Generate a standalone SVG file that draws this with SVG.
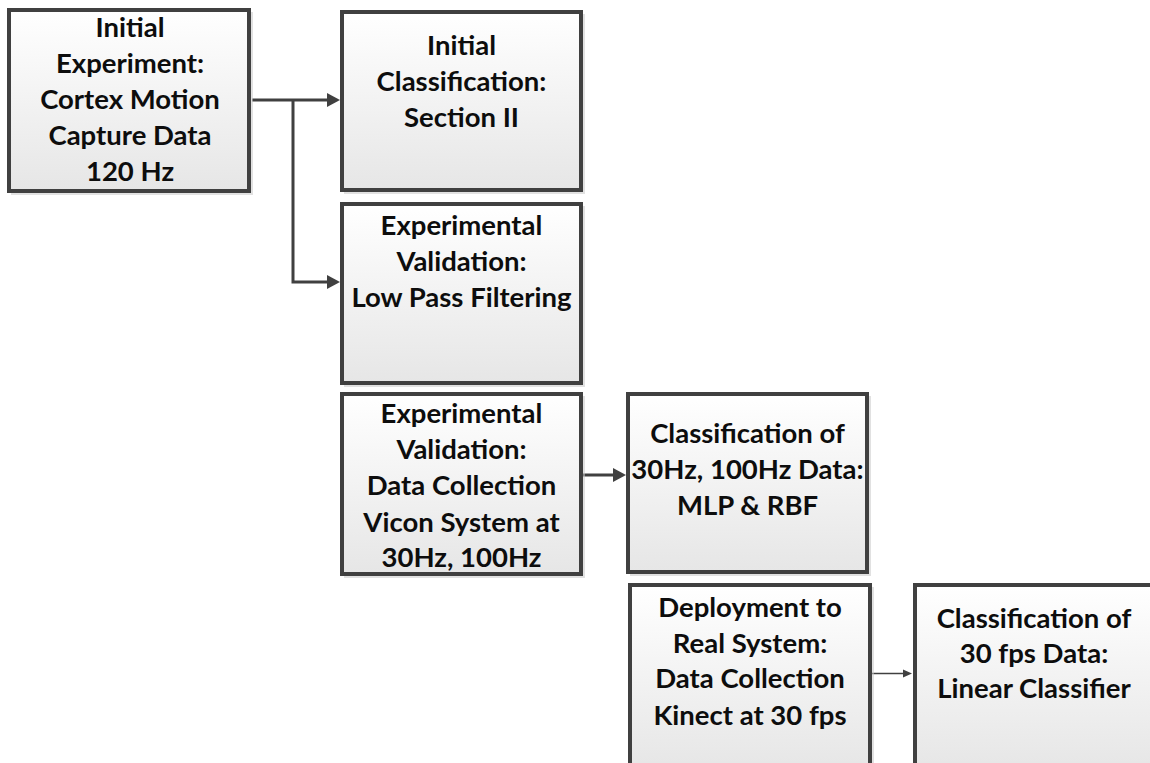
<svg xmlns="http://www.w3.org/2000/svg" width="1150" height="763" viewBox="0 0 1150 763">
  <defs>
    <linearGradient id="boxfill" x1="0" y1="0" x2="0" y2="1">
      <stop offset="0" stop-color="#ffffff"/>
      <stop offset="1" stop-color="#e6e6e6"/>
    </linearGradient>
    <marker id="arrow" markerUnits="userSpaceOnUse" markerWidth="14" markerHeight="14" viewBox="0 0 14 14" refX="7" refY="7" orient="auto">
      <path d="M0,0 L13,7 L0,14 z" fill="#404040"/>
    </marker>
    <marker id="arrowSmall" markerUnits="userSpaceOnUse" markerWidth="10" markerHeight="10" viewBox="0 0 10 10" refX="5" refY="5" orient="auto">
      <path d="M0,1 L9,5 L0,9 z" fill="#404040"/>
    </marker>
    <style>
      .shadow { fill: #c8c8c8; opacity: 0.55; }
      .box { fill: url(#boxfill); stroke: #404040; stroke-width: 4; }
      .label { font-family: "Lato", "Liberation Sans", sans-serif; font-weight: bold; font-size: 27.5px; fill: #0d0d0d; text-anchor: middle; }
      .conn { fill: none; stroke: #404040; stroke-width: 3; }
      .connThin { fill: none; stroke: #404040; stroke-width: 1.5; }
    </style>
  </defs>

  <rect width="1150" height="763" fill="#ffffff"/>

  <g id="connectors">
    <path class="conn" d="M252,100 H334" marker-end="url(#arrow)"/>
    <path class="conn" d="M293,100 V282 H334" marker-end="url(#arrow)"/>
    <path class="conn" d="M583,475 H620" marker-end="url(#arrow)"/>
    <path class="connThin" d="M872,673.5 H908" marker-end="url(#arrowSmall)"/>
  </g>

  <g id="node-initial-experiment">
    <rect class="shadow" x="11" y="12" width="242" height="183"/>
    <rect class="box" x="9" y="10" width="240" height="181"/>
    <text class="label" x="130" y="37">Initial</text>
    <text class="label" x="130" y="73">Experiment:</text>
    <text class="label" x="130" y="109">Cortex Motion</text>
    <text class="label" x="130" y="145">Capture Data</text>
    <text class="label" x="130" y="181">120 Hz</text>
  </g>

  <g id="node-initial-classification">
    <rect class="shadow" x="344" y="14" width="241" height="180"/>
    <rect class="box" x="342" y="12" width="239" height="178"/>
    <text class="label" x="461.5" y="55">Initial</text>
    <text class="label" x="461.5" y="91">Classification:</text>
    <text class="label" x="461.5" y="127">Section II</text>
  </g>

  <g id="node-low-pass">
    <rect class="shadow" x="344" y="206" width="241" height="181"/>
    <rect class="box" x="342" y="204" width="239" height="179"/>
    <text class="label" x="461.5" y="235">Experimental</text>
    <text class="label" x="461.5" y="271">Validation:</text>
    <text class="label" x="461.5" y="307">Low Pass Filtering</text>
  </g>

  <g id="node-vicon">
    <rect class="shadow" x="344" y="396" width="241" height="182"/>
    <rect class="box" x="342" y="394" width="239" height="180"/>
    <text class="label" x="461.5" y="423">Experimental</text>
    <text class="label" x="461.5" y="459">Validation:</text>
    <text class="label" x="461.5" y="495">Data Collection</text>
    <text class="label" x="461.5" y="532">Vicon System at</text>
    <text class="label" x="461.5" y="567">30Hz, 100Hz</text>
  </g>

  <g id="node-mlp-rbf">
    <rect class="shadow" x="630" y="396" width="241" height="180"/>
    <rect class="box" x="628" y="394" width="239" height="178"/>
    <text class="label" x="747.5" y="443">Classification of</text>
    <text class="label" x="747.5" y="479">30Hz, 100Hz Data:</text>
    <text class="label" x="747.5" y="515">MLP &amp; RBF</text>
  </g>

  <g id="node-kinect">
    <rect class="shadow" x="632" y="587" width="242" height="185"/>
    <rect class="box" x="630" y="585" width="240" height="185"/>
    <text class="label" x="750" y="617">Deployment to</text>
    <text class="label" x="750" y="653">Real System:</text>
    <text class="label" x="750" y="688">Data Collection</text>
    <text class="label" x="750" y="725">Kinect at 30 fps</text>
  </g>

  <g id="node-linear">
    <rect class="shadow" x="917" y="587" width="242" height="185"/>
    <rect class="box" x="915" y="585" width="240" height="185"/>
    <text class="label" x="1034" y="628">Classification of</text>
    <text class="label" x="1034" y="663">30 fps Data:</text>
    <text class="label" x="1034" y="698">Linear Classifier</text>
  </g>
</svg>
